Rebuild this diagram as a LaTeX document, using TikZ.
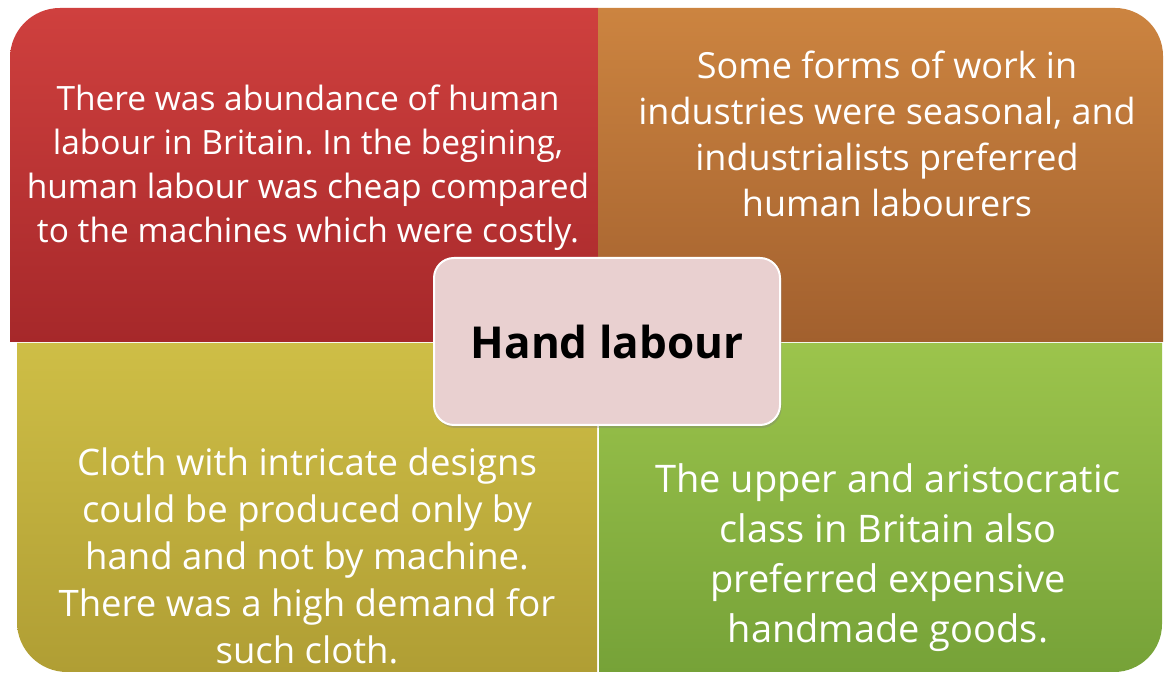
\documentclass[tikz,border=0pt]{standalone}
\usepackage{fontspec}
\setmainfont{Open Sans}
\usetikzlibrary{shadows}
\frenchspacing

\definecolor{redtop}{RGB}{207,64,62}
\definecolor{redbot}{RGB}{166,40,42}
\definecolor{orangetop}{RGB}{204,132,64}
\definecolor{orangebot}{RGB}{162,96,46}
\definecolor{yellowtop}{RGB}{206,190,70}
\definecolor{yellowbot}{RGB}{176,158,52}
\definecolor{greentop}{RGB}{156,196,76}
\definecolor{greenbot}{RGB}{118,162,56}
\definecolor{hubpink}{RGB}{233,208,208}

\tikzset{
	quadtext/.style={text=white, align=center},
	hubbox/.style={rounded corners=20pt, draw=white, line width=2pt, fill=hubpink,
		drop shadow={shadow xshift=1.5pt, shadow yshift=-3pt, opacity=0.35}},
}

\begin{document}
\begin{tikzpicture}[x=1pt,y=1pt]
	\useasboundingbox (0,0) rectangle (1166,679);
	\coordinate (M) at (598,337);
	% four quadrants, outer corner rounded
	\shade[top color=redtop, bottom color=redbot]
		(598,337) -- (10,337) -- (10,621) arc[start angle=180, end angle=90, radius=50] -- (598,671) -- cycle;
	\shade[top color=orangetop, bottom color=orangebot]
		(598,337) -- (598,671) -- (1115,671) arc[start angle=90, end angle=0, radius=48] -- (1163,337) -- cycle;
	\shade[top color=yellowtop, bottom color=yellowbot]
		(597,336) -- (17,336) -- (17,57) arc[start angle=180, end angle=270, radius=50] -- (597,7) -- cycle;
	\shade[top color=greentop, bottom color=greenbot]
		(599,336) -- (599,7) -- (1114,7) arc[start angle=270, end angle=360, radius=48] -- (1162,336) -- cycle;
	\draw[white, opacity=0.7, line width=1pt] (598,7) -- (598,336);

	\node[quadtext, font=\fontsize{33.5}{44}\selectfont] (labour) at (308,511)
		{There was abundance of human\\labour in Britain. In the begining,\\human labour was cheap compared\\to the machines which were costly.};
	\node[quadtext, font=\fontsize{36}{46}\selectfont] (seasonal) at (887,545)
		{Some forms of work in\\industries were seasonal, and\\industrialists preferred\\human labourers};
	\node[quadtext, font=\fontsize{36.5}{47}\selectfont] (cloth) at (307,123)
		{Cloth with intricate designs\\could be produced only by\\hand and not by machine.\\There was a high demand for\\such cloth.};
	\node[quadtext, font=\fontsize{38}{50}\selectfont] (upper) at (888,121)
		{The upper and aristocratic\\class in Britain also\\preferred expensive\\handmade goods.};

	% centre box
	\draw[hubbox] (434,254) rectangle (780,421);
	\node[font=\fontsize{44}{50}\selectfont\bfseries] (hub) at (607,337) {Hand labour};
\end{tikzpicture}
\end{document}
